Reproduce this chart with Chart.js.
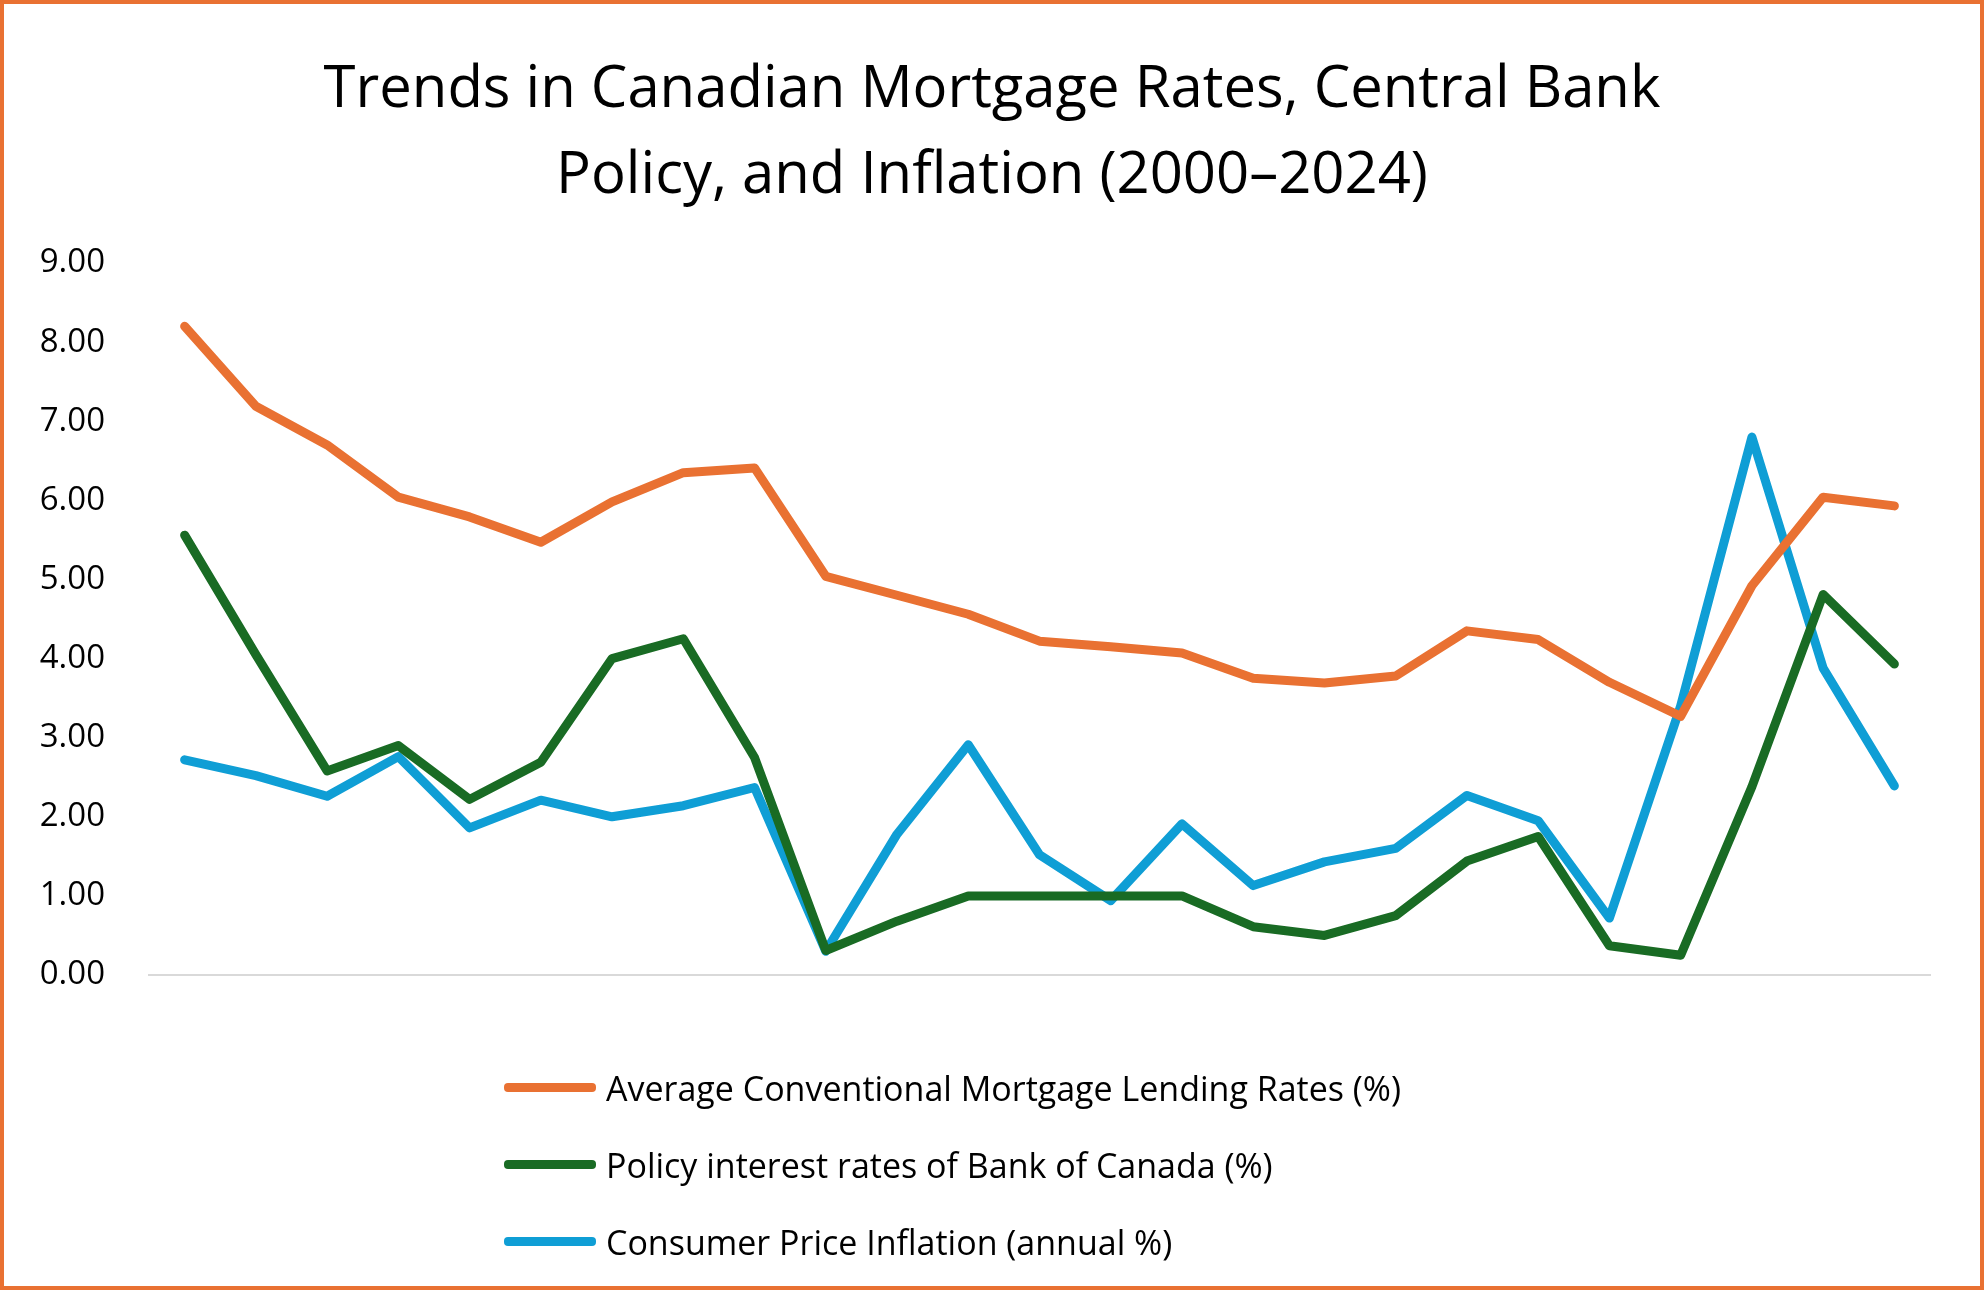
<!DOCTYPE html>
<html><head><meta charset="utf-8">
<script src="https://cdn.jsdelivr.net/npm/chart.js@4"></script>
<style>
html,body{margin:0;padding:0;background:#fff;}
#wrap{position:relative;width:1984px;height:1290px;box-sizing:border-box;border:4px solid #E97132;overflow:hidden;font-family:"Open Sans","Noto Sans",sans-serif;}
#title{position:absolute;left:0;right:0;top:38px;text-align:center;font-size:58px;line-height:86px;color:#000;}
#legend{position:absolute;left:500px;top:1045px;font-size:34px;color:#000;}
.li{display:flex;align-items:center;height:77px;}
.sw{width:92px;height:9px;border-radius:4px;margin-right:10px;}
canvas{position:absolute;left:-4px;top:-4px;}
</style></head><body>
<div id="wrap">
<div id="title">Trends in Canadian Mortgage Rates, Central Bank<br>Policy, and Inflation (2000–2024)</div>
<canvas id="c" width="1984" height="1290"></canvas>
<div id="legend"></div>
</div>
<script>
const years = Array.from({length:25},(_,i)=>String(2000+i));
const mortgage = [8.20,7.19,6.70,6.04,5.79,5.47,5.98,6.35,6.41,5.04,4.80,4.56,4.22,4.15,4.07,3.75,3.69,3.78,4.35,4.24,3.70,3.27,4.92,6.04,5.93];
const policy = [5.56,4.05,2.58,2.90,2.22,2.69,4.00,4.25,2.75,0.31,0.68,1.00,1.00,1.00,1.00,0.61,0.50,0.75,1.44,1.75,0.37,0.25,2.38,4.81,3.93];
const cpi = [2.72,2.52,2.26,2.76,1.86,2.21,2.00,2.14,2.37,0.30,1.78,2.91,1.52,0.94,1.91,1.13,1.43,1.60,2.27,1.95,0.72,3.40,6.80,3.88,2.39];
const labels = ["Average Conventional Mortgage Lending Rates (%)"," Policy interest rates of Bank of Canada  (%)","Consumer Price Inflation (annual %)"];
const colors = ["#E97132","#196B24","#0F9ED5"];
const series=[mortgage,policy,cpi];
const lg=document.getElementById('legend');
labels.forEach((l,i)=>{const d=document.createElement('div');d.className='li';d.innerHTML='<div class="sw" style="background:'+colors[i]+'"></div><span></span>';d.querySelector('span').textContent=l;lg.appendChild(d);});
new Chart(document.getElementById('c'),{
 type:'line',
 data:{labels:years,datasets:series.map((s,i)=>({label:labels[i],data:s,borderColor:colors[i],backgroundColor:colors[i],borderWidth:9,pointRadius:0,tension:0,borderCapStyle:'round',borderJoinStyle:'round'}))},
 options:{responsive:false,animation:false,
  layout:{padding:{left:20,right:54,top:263,bottom:315}},
  plugins:{legend:{display:false},title:{display:false},tooltip:{enabled:false}},
  scales:{
   x:{offset:true,grid:{display:false},ticks:{display:false},border:{display:true,color:'#d9d9d9',width:2},afterFit:a=>{a.height=0;}},
   y:{min:0,max:9,ticks:{stepSize:1,padding:36,color:'#000',font:{family:'"Open Sans","Noto Sans",sans-serif',size:33},callback:v=>v.toFixed(2)},grid:{display:false},border:{display:false},afterFit:a=>{a.width=129;}}
  }}
});
</script>
</body></html>
